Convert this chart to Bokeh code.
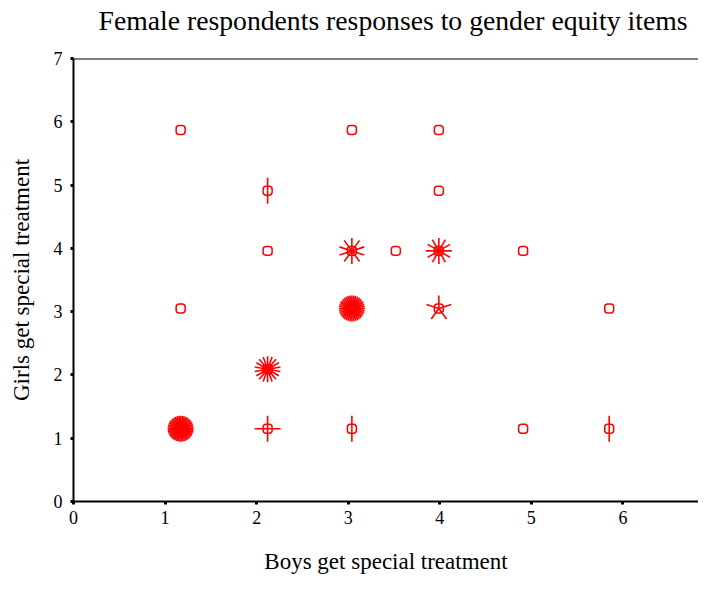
import math
from bokeh.plotting import figure
from bokeh.models import Span, ColumnDataSource, Title
from bokeh.embed import file_html
from bokeh.resources import INLINE

# Sunflower plot data (bin centres and number of cases)
xs = [1.17, 3.04, 3.99, 2.12, 3.99, 2.12, 3.04, 3.52, 3.99, 4.91,
      1.17, 3.04, 3.99, 5.85, 2.12, 1.17, 2.12, 3.04, 4.91, 5.85]
ys = [5.87, 5.87, 5.87, 4.91, 4.91, 3.96, 3.96, 3.96, 3.96, 3.96,
      3.05, 3.05, 3.05, 3.05, 2.09, 1.15, 1.15, 1.15, 1.15, 1.15]
counts = [1, 1, 1, 2, 1, 1, 10, 1, 12, 1,
          1, 40, 5, 1, 18, 45, 4, 2, 1, 2]
ticks = [0, 1, 2, 3, 4, 5, 6, 7]

title = "Female respondents responses to gender equity items"
xlabel = "Boys get special treatment"
ylabel = "Girls get special treatment"

RED = "#ff0000"
FONT = "Liberation Serif"

W, H = 698, 576
BL, BT, BB = 73, 58, 73
frame_w = W - BL
frame_h = H - BT - BB
x_end = frame_w / 91.57  # axis runs past the right edge, as in the original

p = figure(width=W, height=H, x_range=(0, x_end), y_range=(0, 7),
           output_backend="svg", toolbar_location=None,
           min_border_left=BL, min_border_right=0,
           min_border_top=BT, min_border_bottom=BB,
           title=None)

# spacer between title and plot frame
p.add_layout(Title(text=" ", text_font_size="1px", standoff=20), "above")
p.add_layout(Title(text=title, text_font=FONT, text_font_size="27.7px",
                   text_font_style="normal", text_color="black",
                   align="left", offset=25, standoff=0), "above")

p.grid.visible = False
p.outline_line_color = None
p.background_fill_color = "white"
p.border_fill_color = "white"

for ax in (p.xaxis[0], p.yaxis[0]):
    ax.ticker = ticks
    ax.axis_line_width = 2
    ax.axis_line_color = "black"
    ax.major_tick_in = 0
    ax.major_tick_out = 3
    ax.major_tick_line_width = 3
    ax.minor_tick_line_color = None
    ax.major_label_text_font = FONT
    ax.major_label_text_font_size = "18px"
    ax.major_label_text_color = "black"
    ax.axis_label_text_font = FONT
    ax.axis_label_text_font_size = "23px"
    ax.axis_label_text_font_style = "normal"
    ax.axis_label_text_color = "black"

p.xaxis.axis_label = xlabel
p.yaxis.axis_label = ylabel
p.xaxis.major_label_standoff = 6
p.xaxis.axis_label_standoff = 22
p.yaxis.major_label_standoff = 8
p.yaxis.axis_label_standoff = 17
p.yaxis.major_label_orientation = "horizontal"

p.add_layout(Span(location=7, dimension="width", line_color="black", line_width=2))

# petals
rx, ry, ra = [], [], []
for x, y, n in zip(xs, ys, counts):
    if n > 1:
        for k in range(n):
            rx.append(x)
            ry.append(y)
            ra.append(math.pi / 2 + 2 * math.pi * k / n)
p.ray(x=rx, y=ry, angle=ra, length=13, length_units="screen",
      line_color=RED, line_width=1.6)

# centre markers (rounded squares, ~9 px)
wx = 9 / 91.57
wy = 9 / 63.57
src = ColumnDataSource(dict(
    left=[x - wx / 2 for x in xs], right=[x + wx / 2 for x in xs],
    bottom=[y - wy / 2 for y in ys], top=[y + wy / 2 for y in ys]))
p.quad(left="left", right="right", bottom="bottom", top="top", source=src,
       fill_color=None, line_color=RED, line_width=1.5, border_radius=3)

open("out.html", "w").write(file_html(p, INLINE))
